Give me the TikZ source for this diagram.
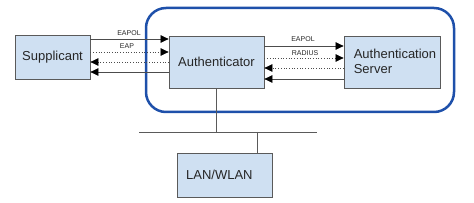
\documentclass[tikz,border=0pt]{standalone}
\usepackage{fontspec}
\setmainfont{Liberation Sans}
\usetikzlibrary{arrows.meta}
\definecolor{boxfill}{RGB}{207,224,242}
\definecolor{boxline}{RGB}{90,90,90}
\definecolor{ringblue}{RGB}{30,80,170}
\tikzset{
  x=1pt, y=-1pt,
  box/.style={draw=boxline, fill=boxfill, line width=0.8pt, inner sep=0pt},
  msg/.style={draw=black!70, line width=0.7pt, -{Triangle[length=8pt,width=7.5pt,fill=black,color=black]}},
  dmsg/.style={msg, dotted},
  lbl/.style={font=\fontsize{7}{8}\selectfont, inner sep=0pt, text=black!85},
  bigtxt/.style={font=\fontsize{13}{15}\selectfont, text=black!85},
}
\begin{document}
\begin{tikzpicture}
\useasboundingbox (0,0) rectangle (474,203);
\draw[ringblue, line width=2.5pt, rounded corners=20pt] (146,8) rectangle (454,112);
\node[box, minimum width=75pt, minimum height=44pt] (sup) at (52.5,57) {};
\node[bigtxt] at (sup.center) {Supplicant};
\node[box, minimum width=95pt, minimum height=52pt] (auth) at (216.5,62) {};
\node[bigtxt] at (auth.center) {Authenticator};
\node[box, minimum width=96pt, minimum height=52pt] (srv) at (392,62) {};
\node[bigtxt, align=left] at (395,61) {Authentication\\Server};
\node[box, minimum width=95pt, minimum height=44pt] (lan) at (224.5,175) {};
\node[bigtxt, anchor=west] at (lan.west) [xshift=6pt] {LAN/WLAN};
% Supplicant <-> Authenticator
\coordinate (s1) at (sup.east |- 0,39);
\coordinate (s2) at (sup.east |- 0,52);
\coordinate (s3) at (sup.east |- 0,62);
\coordinate (s4) at (sup.east |- 0,72);
\draw[msg] (s1) -- (s1 -| auth.west);
\draw[dmsg] (s2) -- (s2 -| auth.west);
\draw[dmsg] (s3 -| auth.west) -- (s3);
\draw[msg] (s4 -| auth.west) -- (s4);
\node[lbl] at (129,33) {EAPOL};
\node[lbl] at (127,46) {EAP};
% Authenticator <-> Server
\coordinate (a1) at (auth.east |- 0,46);
\coordinate (a2) at (auth.east |- 0,58);
\coordinate (a3) at (auth.east |- 0,68);
\coordinate (a4) at (auth.east |- 0,79);
\draw[msg] (a1) -- (a1 -| srv.west);
\draw[dmsg] (a2) -- (a2 -| srv.west);
\draw[dmsg] (a3 -| srv.west) -- (a3);
\draw[msg] (a4 -| srv.west) -- (a4);
\node[lbl] at (303,39) {EAPOL};
\node[lbl] at (305,53) {RADIUS};
% bus
\coordinate (busL) at (139,132);
\coordinate (busR) at (317,132);
\draw[boxline, line width=0.8pt] (busL) -- (busR);
\draw[boxline, line width=0.8pt] (auth.south) -- (auth.south |- busL);
\coordinate (lanTop) at (257,153);
\draw[boxline, line width=0.8pt] (lanTop |- busL) -- (lanTop);
\end{tikzpicture}
\end{document}
